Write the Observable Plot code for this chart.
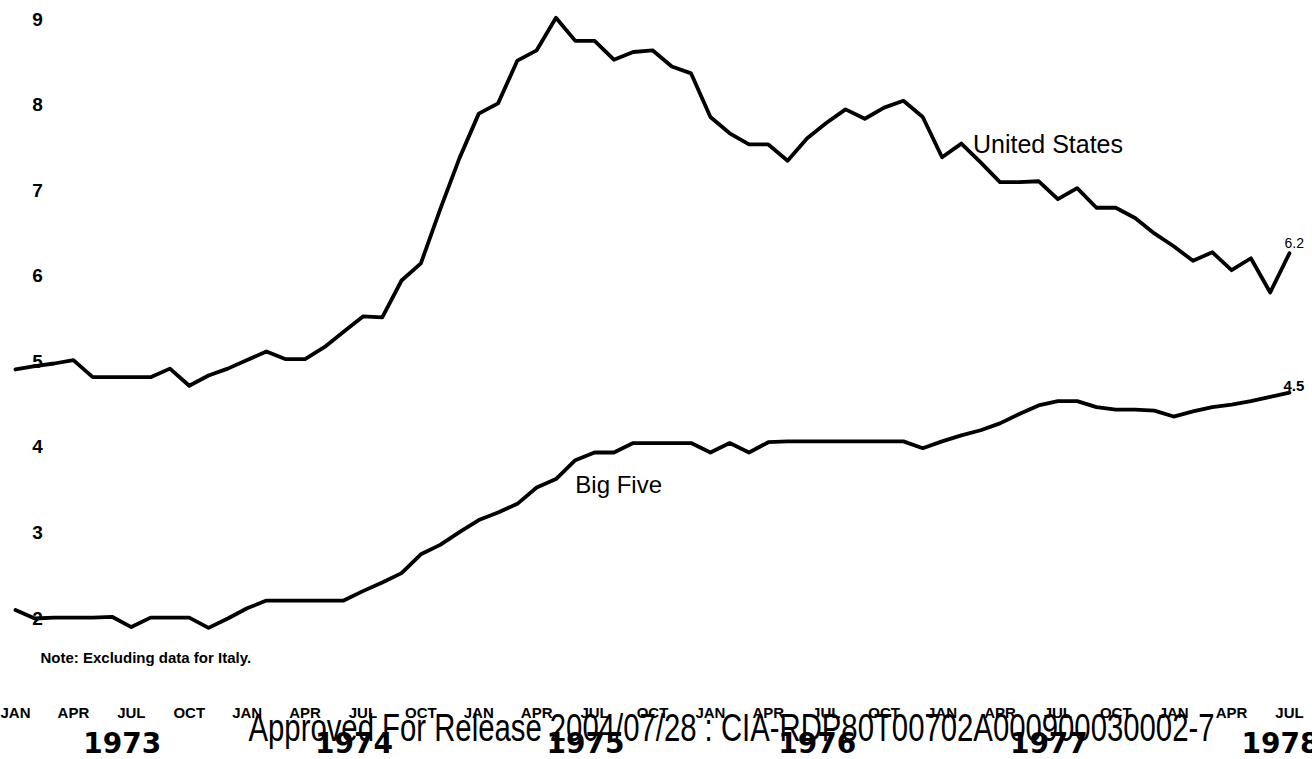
<!DOCTYPE html>
<html><head><meta charset="utf-8">
<script src="https://cdn.jsdelivr.net/npm/d3@7"></script>
<script src="https://cdn.jsdelivr.net/npm/@observablehq/plot@0.6"></script>
<style>
html,body{margin:0;padding:0;background:#fff;}
#chart{width:1312px;height:759px;overflow:hidden;}
</style></head><body><div id="chart"></div>
<script>
// Unemployment rate, monthly, Jan 1973 .. Jul 1978 (index 0..66)
const usRate = [
  4.91, 4.95, 4.98, 5.02, 4.82, 4.82, 4.82, 4.82, 4.92, 4.72,
  4.84, 4.92, 5.02, 5.12, 5.03, 5.03, 5.17, 5.35, 5.53, 5.52,
  5.95, 6.15, 6.78, 7.38, 7.90, 8.02, 8.52, 8.64, 9.02, 8.75,
  8.75, 8.53, 8.62, 8.64, 8.45, 8.37, 7.86, 7.67, 7.54, 7.54,
  7.35, 7.61, 7.79, 7.95, 7.84, 7.97, 8.05, 7.86, 7.39, 7.55,
  7.33, 7.10, 7.10, 7.11, 6.90, 7.03, 6.80, 6.80, 6.68, 6.50,
  6.35, 6.18, 6.28, 6.07, 6.21, 5.81, 6.27
];
const bigFive = [
  2.10, 2.00, 2.01, 2.01, 2.01, 2.02, 1.90, 2.01, 2.01, 2.01,
  1.89, 2.00, 2.12, 2.21, 2.21, 2.21, 2.21, 2.21, 2.32, 2.42,
  2.53, 2.75, 2.86, 3.01, 3.15, 3.24, 3.34, 3.53, 3.63, 3.85,
  3.94, 3.94, 4.05, 4.05, 4.05, 4.05, 3.94, 4.05, 3.94, 4.06,
  4.07, 4.07, 4.07, 4.07, 4.07, 4.07, 4.07, 3.99, 4.07, 4.14,
  4.20, 4.28, 4.39, 4.49, 4.54, 4.54, 4.47, 4.44, 4.44, 4.43,
  4.36, 4.42, 4.47, 4.50, 4.54, 4.59, 4.64
];
const seriesNames = ["United States", "Big Five"];
const endLabels = ["6.2", "4.5"];
const yTicks = [2, 3, 4, 5, 6, 7, 8, 9];
const tickMonths = [0,3,6,9,12,15,18,21,24,27,30,33,36,39,42,45,48,51,54,57,60,63,66];
const tickLabels = ["JAN","APR","JUL","OCT","JAN","APR","JUL","OCT","JAN","APR","JUL","OCT",
                    "JAN","APR","JUL","OCT","JAN","APR","JUL","OCT","JAN","APR","JUL"];
const yearMonths = [6, 18, 30, 42, 54, 66];
const yearLabels = ["1973", "1974", "1975", "1976", "1977", "1978"];
// label anchor points (month index, rate) for the series names
const seriesLabelMonth = [49.6, 29.0];
const seriesLabelRate = [7.53, 3.56];
const noteText = "Note: Excluding data for Italy.";
const stampText = "Approved For Release 2004/07/28 : CIA-RDP80T00702A000900030002-7";

const rows = [
  ...usRate.map((v, i) => ({m: i, v, s: seriesNames[0]})),
  ...bigFive.map((v, i) => ({m: i, v, s: seriesNames[1]}))
];
const last = usRate.length - 1;
const ends = [
  {m: last, v: usRate[last], t: endLabels[0]},
  {m: last, v: bigFive[last], t: endLabels[1]}
];
const labels = seriesNames.map((n, i) => ({n, m: seriesLabelMonth[i], v: seriesLabelRate[i]}));

const chart = Plot.plot({
  width: 1312,
  height: 759,
  marginLeft: 15,
  marginRight: 23,
  marginTop: 19,
  marginBottom: 141,
  x: {domain: [0, 66], axis: null},
  y: {domain: [2, 9], axis: null},
  style: {fontFamily: "'Liberation Sans', Arial, sans-serif", background: "#fff", color: "#000", overflow: "visible"},
  marks: [
    Plot.lineY(rows, {x: "m", y: "v", z: "s", stroke: "#000", strokeWidth: 3.8, strokeLinejoin: "round", strokeLinecap: "round"}),
    Plot.text(yTicks, {y: d => d, frameAnchor: "left", dx: 22, text: d => String(d), fontSize: 19, fontWeight: "bold", textAnchor: "middle"}),
    Plot.text(tickMonths, {x: d => d, frameAnchor: "bottom", dy: 99, text: (d, i) => tickLabels[i], fontSize: 15, fontWeight: "bold"}),
    Plot.text([stampText], {frameAnchor: "bottom", dx: 79, dy: 122, lineAnchor: "bottom", text: d => d, fontSize: 38}),
    Plot.text(yearMonths, {x: d => d, frameAnchor: "bottom", dy: 134, dx: -9, text: (d, i) => yearLabels[i], fontSize: 28, fontWeight: "bold", fontFamily: "'DejaVu Sans', sans-serif"}),
    Plot.text([noteText], {frameAnchor: "bottom-left", dx: 25, dy: 44, textAnchor: "start", text: d => d, fontSize: 15, fontWeight: "bold"}),
    Plot.text(labels.slice(0, 1), {x: "m", y: "v", text: "n", textAnchor: "start", fontSize: 25}),
    Plot.text(labels.slice(1, 2), {x: "m", y: "v", text: "n", textAnchor: "start", fontSize: 24}),
    Plot.text(ends.slice(0, 1), {x: "m", y: "v", text: "t", textAnchor: "start", dx: -5, dy: -10, fontSize: 14}),
    Plot.text(ends.slice(1, 2), {x: "m", y: "v", text: "t", textAnchor: "start", dx: -6, dy: -6, fontSize: 15, fontWeight: "bold"})
  ]
});
chart.querySelectorAll("text").forEach(t => {
  if (t.textContent === stampText) {
    t.setAttribute("textLength", "966");
    t.setAttribute("lengthAdjust", "spacingAndGlyphs");
  }
});
document.getElementById("chart").appendChild(chart);
</script></body></html>
